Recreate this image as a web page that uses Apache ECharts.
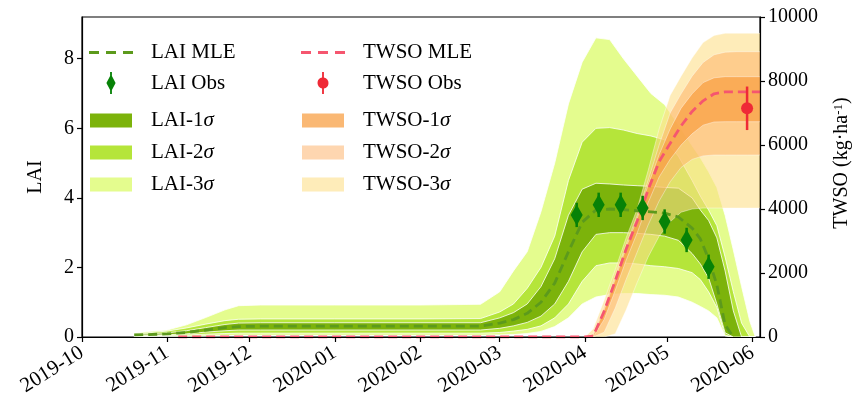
<!DOCTYPE html>
<html>
<head>
<meta charset="utf-8">
<script src="https://cdn.jsdelivr.net/npm/echarts@6/dist/echarts.min.js"></script>
<style>
  html, body { margin: 0; padding: 0; background: #fff; }
  #chart { width: 860px; height: 403px; }
</style>
</head>
<body>
<div id="chart"></div>
<script>
// LAI ensemble: MLE plus 1/2/3 sigma bounds
const laiDates = ['2019-10-20', '2019-10-25', '2019-11-01', '2019-11-08', '2019-11-15', '2019-11-22', '2019-11-27',
  '2019-12-05', '2020-01-01', '2020-02-01', '2020-02-23', '2020-03-01', '2020-03-06', '2020-03-11', '2020-03-16',
  '2020-03-21', '2020-03-26', '2020-03-31', '2020-04-05', '2020-04-10', '2020-04-15', '2020-04-20', '2020-04-25',
  '2020-04-30', '2020-05-05', '2020-05-10', '2020-05-13', '2020-05-16', '2020-05-19', '2020-05-22', '2020-05-25',
  '2020-05-28', '2020-05-31', '2020-06-02']
const laiMle = [0.06, 0.07, 0.09, 0.13, 0.2, 0.27, 0.3, 0.31, 0.31, 0.31, 0.31, 0.4, 0.5, 0.68, 1.0, 1.55, 2.45, 3.3,
  3.65, 3.68, 3.66, 3.63, 3.6, 3.56, 3.45, 3.13, 2.82, 2.25, 1.5, 0.35, 0, null, null, null]
const lai1Lo = [0.045, 0.05, 0.065, 0.09, 0.14, 0.18, 0.2, 0.2, 0.2, 0.2, 0.2, 0.25, 0.32, 0.42, 0.6, 0.95, 1.6, 2.45,
  2.95, 3.0, 3.0, 2.98, 2.95, 2.9, 2.78, 2.4, 2.1, 1.7, 0.95, 0.12, 0, 0, 0, 0]
const lai1Hi = [0.075, 0.09, 0.12, 0.18, 0.27, 0.36, 0.4, 0.41, 0.41, 0.41, 0.41, 0.55, 0.7, 0.95, 1.45, 2.25, 3.5, 4.25,
  4.42, 4.4, 4.37, 4.35, 4.33, 4.3, 4.28, 4.0, 3.65, 3.35, 2.85, 1.9, 0.75, 0, 0, 0]
const lai2Lo = [0.03, 0.035, 0.045, 0.06, 0.08, 0.1, 0.11, 0.11, 0.11, 0.11, 0.11, 0.13, 0.17, 0.22, 0.32, 0.55, 0.95, 1.6,
  2.05, 2.13, 2.13, 2.1, 2.05, 2.02, 1.97, 1.85, 1.65, 1.3, 0.85, 0.05, 0, 0, 0, 0]
const lai2Hi = [0.09, 0.12, 0.17, 0.26, 0.37, 0.47, 0.51, 0.52, 0.52, 0.52, 0.53, 0.72, 0.95, 1.4, 2.0, 2.9, 4.5, 5.6,
  6.0, 6.02, 5.95, 5.85, 5.78, 5.67, 5.2, 4.5, 4.05, 3.65, 3.2, 2.3, 1.3, 0.4, 0, 0]
const lai3Lo = [0.01, 0.015, 0.02, 0.025, 0.03, 0.04, 0.05, 0.05, 0.05, 0.05, 0.05, 0.06, 0.07, 0.1, 0.16, 0.3, 0.55, 0.95,
  1.15, 1.22, 1.25, 1.25, 1.22, 1.2, 1.15, 1.0, 0.88, 0.75, 0.55, 0.03, 0, 0, 0, 0]
const lai3Hi = [0.11, 0.16, 0.2, 0.35, 0.56, 0.78, 0.9, 0.92, 0.92, 0.92, 0.94, 1.3, 1.9, 2.45, 3.6, 5.0, 6.7, 7.9,
  8.6, 8.55, 8.0, 7.5, 7.0, 6.68, 6.1, 5.5, 5.15, 4.75, 4.3, 3.5, 2.5, 1.45, 0.45, 0]

// TWSO ensemble (kg/ha)
const twsoDates = ['2020-04-01', '2020-04-04', '2020-04-08', '2020-04-12', '2020-04-16', '2020-04-20', '2020-04-24',
  '2020-04-28', '2020-05-02', '2020-05-06', '2020-05-10', '2020-05-14', '2020-05-18', '2020-05-22', '2020-05-26',
  '2020-05-30', '2020-06-04']
const twso1Lo = [0, 0, 550, 1450, 2400, 3250, 4200, 5000, 5550, 6000, 6350, 6620, 6720, 6728, 6728, 6728, 6728]
const twso1Hi = [0, 50, 850, 1800, 2800, 3700, 4750, 5700, 6500, 7150, 7600, 7950, 8100, 8135, 8135, 8135, 8135]
const twso2Lo = [0, 0, 150, 900, 1800, 2650, 3500, 4250, 4850, 5300, 5550, 5660, 5687, 5687, 5687, 5687, 5687]
const twso2Hi = [0, 100, 950, 1900, 2900, 3800, 4900, 6000, 7000, 7600, 8150, 8580, 8820, 8900, 8916, 8916, 8916]
const twso3Lo = [0, 0, 0, 100, 850, 1700, 2500, 3150, 3600, 3900, 4000, 4030, 4030, 4030, 4030, 4030, 4030]
const twso3Hi = [0, 250, 1150, 2100, 3100, 4000, 5200, 6500, 7550, 8150, 8720, 9200, 9420, 9490, 9490, 9490, 9490]
const twsoMleDates = ['2019-11-05', '2020-04-01', '2020-04-04', '2020-04-08', '2020-04-12', '2020-04-16', '2020-04-20',
  '2020-04-24', '2020-04-28', '2020-05-02', '2020-05-06', '2020-05-10', '2020-05-14', '2020-05-18', '2020-05-22',
  '2020-05-26', '2020-05-30', '2020-06-04']
const twsoMle = [0, 0, 30, 800, 1750, 2750, 3620, 4600, 5480, 6050, 6600, 7050, 7380, 7600, 7660, 7660, 7660, 7660]

// observations
const laiObsDates = ['2020-03-29', '2020-04-06', '2020-04-14', '2020-04-22', '2020-04-30', '2020-05-08', '2020-05-16']
const laiObs = [3.51, 3.8, 3.8, 3.71, 3.32, 2.79, 2.02]
const laiObsErr = [0.35, 0.35, 0.35, 0.35, 0.35, 0.35, 0.35]
const twsoObsDates = ['2020-05-30']
const twsoObs = [7147]
const twsoObsErr = [680]

const monthTicks = ['2019-10', '2019-11', '2019-12', '2020-01', '2020-02', '2020-03', '2020-04', '2020-05', '2020-06']
const laiTicks = [0, 2, 4, 6, 8]
const twsoTicks = [0, 2000, 4000, 6000, 8000, 10000]

const FONT = 'Liberation Serif'
const C = {
  lai1: '#7cb30b', lai2: '#b5e53a', lai3: '#e4fc8e',
  twso1: 'rgba(248,160,70,0.75)', twso2: 'rgba(253,174,97,0.5)', twso3: 'rgba(254,224,139,0.6)',
  laiMle: '#5c9a1c', twsoMle: '#f5566f', laiObs: '#078207', twsoObs: '#ef2a36',
}

function ts(s) {
  const p = s.split('-').map(Number)
  return new Date(p[0], p[1] - 1, p[2] || 1).getTime()
}
const monthValues = monthTicks.map(ts)

function band(name, dates, lo, hi, color, yAxisIndex, stroke, z) {
  return {
    name, type: 'custom', yAxisIndex, z, clip: true,
    itemStyle: { color },
    data: dates.map((d, i) => [ts(d), lo[i], hi[i]]),
    encode: { x: 0, y: [1, 2] },
    renderItem(params, api) {
      if (params.dataIndex !== 0) return null
      const up = dates.map((d, i) => api.coord([ts(d), hi[i]]))
      const dn = dates.map((d, i) => api.coord([ts(d), lo[i]])).reverse()
      return {
        type: 'polygon',
        shape: { points: up.concat(dn) },
        style: { fill: color, stroke, lineWidth: 0.8 },
      }
    },
  }
}

function errBars(name, dates, vals, errs, color, yAxisIndex, width) {
  return {
    name, type: 'custom', yAxisIndex, z: 9,
    itemStyle: { color },
    data: dates.map((d, i) => [ts(d), vals[i], errs[i]]),
    encode: { x: 0, y: 1 },
    renderItem(params, api) {
      const x = api.value(0), v = api.value(1), e = api.value(2)
      const a = api.coord([x, v - e]), b = api.coord([x, v + e])
      return { type: 'line', shape: { x1: a[0], y1: a[1], x2: b[0], y2: b[1] }, style: { stroke: color, lineWidth: width } }
    },
  }
}

// legend glyphs: dashed line, diamond with error bar, dot with error bar
const dashIcon = 'path://M0,0H10V3H0Z M17,0H27V3H17Z M34,0H44V3H34Z'
const diamondIcon = 'path://M4,0L6,0L6,4.4L10,12L6,19.6L6,24L4,24L4,19.6L0,12L4,4.4Z'
const circleIcon = 'path://M5,0L7,0L7,6.08A6,6 0 0 1 7,17.92L7,24L5,24L5,17.92A6,6 0 0 1 5,6.08Z'

const legendBase = {
  orient: 'vertical', padding: 0, selectedMode: false,
  formatter: n => n.replace('σ', '{i|σ}'),
}
function legendText(pad) {
  return {
    fontFamily: FONT, fontSize: 21, color: '#000', padding: [0, 0, 0, pad],
    rich: { i: { fontStyle: 'italic', fontFamily: FONT, fontSize: 21, color: '#000' } },
  }
}

const chart = echarts.init(document.getElementById('chart'))
chart.setOption({
  animation: false,
  backgroundColor: '#fff',
  grid: { left: 82, right: 97, top: 17, bottom: 66, show: true, borderColor: '#000', borderWidth: 1.2, backgroundColor: 'transparent' },
  legend: [
    { ...legendBase, left: 89, top: 42, itemWidth: 44, itemHeight: 22, itemGap: 9, textStyle: legendText(13),
      data: [
        { name: 'LAI MLE', icon: dashIcon, itemStyle: { color: C.laiMle } },
        { name: 'LAI Obs', icon: diamondIcon, itemStyle: { color: C.laiObs } },
      ] },
    { ...legendBase, left: 90, top: 110, itemWidth: 42, itemHeight: 14, itemGap: 11, textStyle: legendText(14),
      data: [
        { name: 'LAI-1σ', icon: 'rect', itemStyle: { color: C.lai1, borderWidth: 0 } },
        { name: 'LAI-2σ', icon: 'rect', itemStyle: { color: C.lai2, borderWidth: 0 } },
        { name: 'LAI-3σ', icon: 'rect', itemStyle: { color: C.lai3, borderWidth: 0 } },
      ] },
    { ...legendBase, left: 301, top: 42, itemWidth: 44, itemHeight: 22, itemGap: 9, textStyle: legendText(13),
      data: [
        { name: 'TWSO MLE', icon: dashIcon, itemStyle: { color: C.twsoMle } },
        { name: 'TWSO Obs', icon: circleIcon, itemStyle: { color: C.twsoObs } },
      ] },
    { ...legendBase, left: 302, top: 110, itemWidth: 42, itemHeight: 14, itemGap: 11, textStyle: legendText(14),
      data: [
        { name: 'TWSO-1σ', icon: 'rect', itemStyle: { color: C.twso1, borderWidth: 0 } },
        { name: 'TWSO-2σ', icon: 'rect', itemStyle: { color: C.twso2, borderWidth: 0 } },
        { name: 'TWSO-3σ', icon: 'rect', itemStyle: { color: C.twso3, borderWidth: 0 } },
      ] },
  ],
  xAxis: {
    type: 'value', z: 50,
    min: ts('2019-10-01'), max: ts('2020-06-01') + 2.7 * 86400000,
    splitLine: { show: false },
    axisLine: { onZero: false, lineStyle: { color: '#000', width: 1.2 } },
    axisTick: { length: 5, lineStyle: { color: '#000', width: 1.2 }, customValues: monthValues },
    axisLabel: {
      customValues: monthValues, rotate: 32, margin: 14,
      fontFamily: FONT, fontSize: 21, color: '#000',
      formatter: v => monthTicks[monthValues.indexOf(v)] || '',
    },
  },
  yAxis: [
    {
      type: 'value', min: 0, max: 9.2, interval: 2, z: 50,
      name: 'LAI', nameLocation: 'middle', nameRotate: 90, nameGap: 36,
      nameTextStyle: { fontFamily: FONT, fontSize: 20, color: '#000' },
      splitLine: { show: false },
      axisLine: { show: true, lineStyle: { color: '#000', width: 1.2 } },
      axisTick: { show: true, length: 5, lineStyle: { color: '#000', width: 1.2 }, customValues: laiTicks },
      axisLabel: { customValues: laiTicks, margin: 8, fontFamily: FONT, fontSize: 20, color: '#000' },
    },
    {
      type: 'value', min: 0, max: 10000, interval: 2000, position: 'right', z: 50,
      name: 'TWSO (kg·ha{sup|-1})', nameLocation: 'middle', nameRotate: 90, nameGap: 72,
      nameTextStyle: {
        fontFamily: FONT, fontSize: 20, color: '#000', padding: [0, 0, 0, 28],
        rich: { sup: { fontFamily: FONT, fontSize: 13, color: '#000', verticalAlign: 'top' } },
      },
      splitLine: { show: false },
      axisLine: { show: true, lineStyle: { color: '#000', width: 1.2 } },
      axisTick: { show: true, length: 5, lineStyle: { color: '#000', width: 1.2 }, customValues: twsoTicks },
      axisLabel: { customValues: twsoTicks, margin: 8, fontFamily: FONT, fontSize: 20, color: '#000', formatter: v => String(v) },
    },
  ],
  series: [
    band('LAI-3σ', laiDates, lai3Lo, lai3Hi, C.lai3, 0, '#fff', 1),
    band('LAI-2σ', laiDates, lai2Lo, lai2Hi, C.lai2, 0, '#fff', 2),
    band('LAI-1σ', laiDates, lai1Lo, lai1Hi, C.lai1, 0, '#fff', 3),
    band('TWSO-3σ', twsoDates, twso3Lo, twso3Hi, C.twso3, 1, 'rgba(255,255,255,0.5)', 4),
    band('TWSO-2σ', twsoDates, twso2Lo, twso2Hi, C.twso2, 1, 'rgba(255,255,255,0.5)', 5),
    band('TWSO-1σ', twsoDates, twso1Lo, twso1Hi, C.twso1, 1, 'rgba(255,255,255,0.5)', 6),
    {
      name: 'LAI MLE', type: 'line', z: 7, symbol: 'none', yAxisIndex: 0,
      data: laiDates.map((d, i) => [ts(d), laiMle[i]]),
      itemStyle: { color: C.laiMle },
      lineStyle: { color: C.laiMle, width: 2.8, type: [9, 5] },
    },
    {
      name: 'TWSO MLE', type: 'line', z: 8, symbol: 'none', yAxisIndex: 1,
      data: twsoMleDates.map((d, i) => [ts(d), twsoMle[i]]),
      itemStyle: { color: C.twsoMle },
      lineStyle: { color: C.twsoMle, width: 2.8, type: [9, 5] },
    },
    errBars('LAI Obs', laiObsDates, laiObs, laiObsErr, C.laiObs, 0, 2.5),
    errBars('TWSO Obs', twsoObsDates, twsoObs, twsoObsErr, C.twsoObs, 1, 2.5),
    {
      name: 'LAI Obs', type: 'scatter', z: 10, yAxisIndex: 0,
      symbol: 'diamond', symbolSize: [12, 21],
      itemStyle: { color: C.laiObs, opacity: 1 },
      data: laiObsDates.map((d, i) => [ts(d), laiObs[i]]),
    },
    {
      name: 'TWSO Obs', type: 'scatter', z: 10, yAxisIndex: 1,
      symbol: 'circle', symbolSize: 12,
      itemStyle: { color: C.twsoObs, opacity: 1 },
      data: twsoObsDates.map((d, i) => [ts(d), twsoObs[i]]),
    },
  ],
})
</script>
</body>
</html>
